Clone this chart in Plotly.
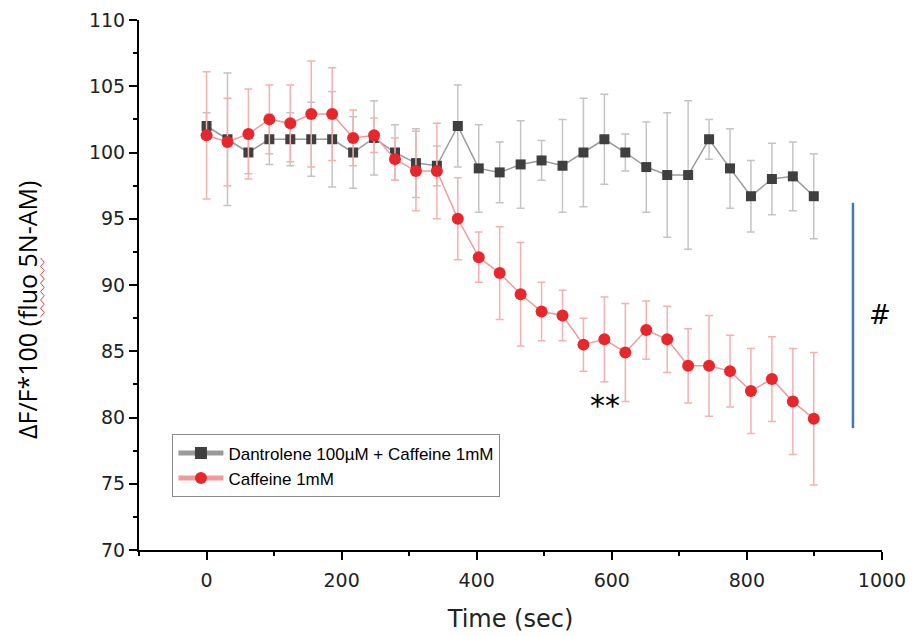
import plotly.graph_objects as go

# time points (sec)
time_s = [0, 31, 62, 93, 124, 155, 186, 217, 248, 279, 310, 341, 372, 403, 434,
          465, 496, 527, 558, 589, 620, 651, 682, 713, 744, 775, 806, 837, 868, 899]

# Dantrolene 100uM + Caffeine 1mM
dant_mean = [102.0, 101.0, 100.0, 101.0, 101.0, 101.0, 101.0, 100.0, 101.1, 100.0,
             99.2, 99.0, 102.0, 98.8, 98.5, 99.1, 99.4, 99.0, 100.0, 101.0,
             100.0, 98.9, 98.3, 98.3, 101.0, 98.8, 96.7, 98.0, 98.2, 96.7]
dant_err = [1.0, 5.0, 1.6, 1.9, 2.0, 2.8, 3.6, 2.7, 2.8, 2.1,
            2.6, 1.5, 3.1, 3.3, 2.3, 3.3, 1.5, 3.5, 4.1, 3.4,
            1.4, 3.4, 4.7, 5.6, 1.5, 3.0, 2.7, 2.7, 2.6, 3.2]

# Caffeine 1mM
caf_mean = [101.3, 100.8, 101.4, 102.5, 102.2, 102.9, 102.9, 101.1, 101.3, 99.5,
            98.6, 98.6, 95.0, 92.1, 90.9, 89.3, 88.0, 87.7, 85.5, 85.9,
            84.9, 86.6, 85.9, 83.9, 83.9, 83.5, 82.0, 82.9, 81.2, 79.9]
caf_err = [4.8, 3.3, 3.4, 2.6, 2.9, 4.0, 3.5, 2.1, 1.3, 1.6,
           3.0, 3.6, 3.1, 1.9, 3.5, 3.9, 2.2, 1.9, 2.0, 3.2,
           3.7, 2.2, 2.5, 2.8, 3.8, 2.7, 3.2, 3.2, 4.0, 5.0]

series_names = ["Dantrolene 100µM + Caffeine 1mM", "Caffeine 1mM"]

fig = go.Figure()

fig.add_trace(go.Scatter(
    x=time_s, y=dant_mean, name=series_names[0], mode="lines+markers",
    line=dict(color="#9a9a9a", width=1.5),
    marker=dict(symbol="square", size=10, color="#3f3f3f"),
    error_y=dict(type="data", array=dant_err, visible=True,
                 color="#c4c4c4", thickness=1.5, width=4),
))
fig.add_trace(go.Scatter(
    x=time_s, y=caf_mean, name=series_names[1], mode="lines+markers",
    line=dict(color="#f29a9a", width=1.5),
    marker=dict(symbol="circle", size=12, color="#e8272d"),
    error_y=dict(type="data", array=caf_err, visible=True,
                 color="#f5b0b0", thickness=1.5, width=4),
))

# significance marks
fig.add_shape(type="line", x0=957, x1=957, y0=79.2, y1=96.2,
              line=dict(color="#4472c4", width=2.5))
fig.add_annotation(x=997, y=87.7, text="#", showarrow=False,
                   font=dict(size=26, color="black", family="DejaVu Sans"))
fig.add_annotation(x=590, y=80.9, text="**", showarrow=False,
                   font=dict(size=30, color="black", family="DejaVu Sans"))

# y-axis title (placed as rotated annotation, slightly below plot centre like the original)
fig.add_annotation(xref="paper", yref="paper", x=-0.150, y=0.452,
                   text="ΔF/F*100 (fluo 5N-AM)", textangle=-90, showarrow=False,
                   xanchor="center", yanchor="middle",
                   font=dict(family="Open Sans", size=25, color="black"))

# red spell-check squiggle under "fluo"
zx0, zx1 = -0.1325, -0.1275
zy_top, zy_bot, nz = 0.551, 0.440, 14
pts = []
for i in range(nz + 1):
    yy = zy_top - (zy_top - zy_bot) * i / nz
    xx = zx0 if i % 2 == 0 else zx1
    pts.append(("M" if i == 0 else "L") + f" {xx:.4f} {yy:.4f}")
fig.add_shape(type="path", xref="paper", yref="paper", path=" ".join(pts),
              line=dict(color="#e04040", width=1))

axis_common = dict(
    showgrid=False, zeroline=False, showline=True, linecolor="black", linewidth=2,
    ticks="outside", ticklen=8, tickwidth=1.5, tickcolor="black",
    tickfont=dict(family="DejaVu Sans", size=19, color="#222222"),
    mirror=False, automargin=False,
)

fig.update_layout(
    width=908, height=628,
    margin=dict(l=131, r=34, t=12, b=86),
    paper_bgcolor="white", plot_bgcolor="white",
    showlegend=True,
    legend=dict(x=0.045, y=0.218, xanchor="left", yanchor="top",
                bgcolor="white", bordercolor="#8a8a8a", borderwidth=1,
                font=dict(family="Liberation Sans", size=17, color="black"),
                tracegroupgap=0, itemsizing="constant", itemwidth=45),
    xaxis=dict(axis_common, range=[-100, 1000], tickvals=[0, 200, 400, 600, 800, 1000],
               ticklabelstandoff=4,
               minor=dict(dtick=100, tick0=0, ticks="outside", ticklen=4, tickcolor="black"),
               title=dict(text="Time (sec)", standoff=20,
                          font=dict(family="DejaVu Sans", size=24, color="#222222"))),
    yaxis=dict(axis_common, range=[70, 110], dtick=5,
               minor=dict(dtick=2.5, tick0=70, ticks="outside", ticklen=4, tickcolor="black")),
)

fig.write_html("out.html")
